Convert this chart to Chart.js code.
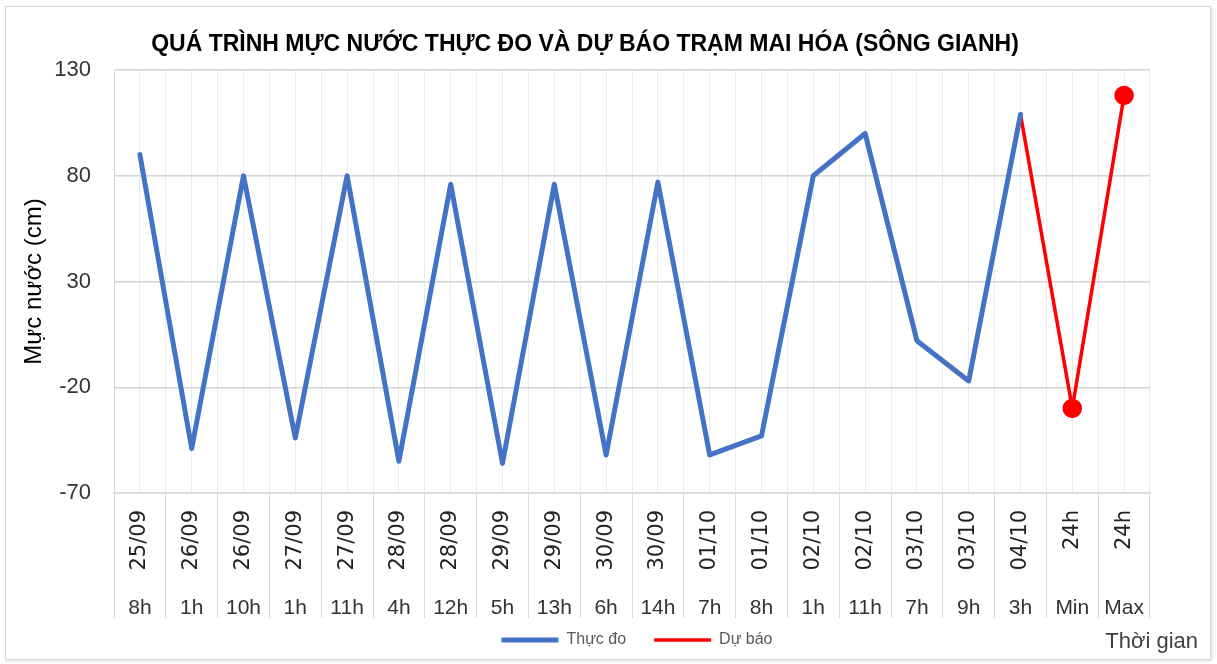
<!DOCTYPE html>
<html lang="vi">
<head>
<meta charset="utf-8">
<title>Mực nước Mai Hóa</title>
<script src="https://cdn.jsdelivr.net/npm/chart.js@4.4.1/dist/chart.umd.min.js"></script>
<style>
  html, body { margin: 0; padding: 0; background: #fff; }
  #frame {
    position: absolute; left: 5px; top: 6px; width: 1204px; height: 652px;
    border: 1px solid #d9d9d9; box-shadow: 1px 1px 3px rgba(0, 0, 0, 0.15);
  }
  #wrap { position: absolute; left: 0; top: 0; width: 1217px; height: 664px; }
</style>
</head>
<body>
<div id="frame"></div>
<div id="wrap"><canvas id="chart" width="1217" height="664"></canvas></div>
<script>
// Chart text
const chartTitle = 'QUÁ TRÌNH MỰC NƯỚC THỰC ĐO VÀ DỰ BÁO TRẠM MAI HÓA (SÔNG GIANH)';
const yTitle = 'Mực nước (cm)';
const xTitle = 'Thời gian';

// Two-level category labels: date (rotated) and hour
const dateLabels = ['25/09', '26/09', '26/09', '27/09', '27/09', '28/09', '28/09', '29/09', '29/09', '30/09',
    '30/09', '01/10', '01/10', '02/10', '02/10', '03/10', '03/10', '04/10', '24h', '24h'];
const hourLabels = ['8h', '1h', '10h', '1h', '11h', '4h', '12h', '5h', '13h', '6h',
    '14h', '7h', '8h', '1h', '11h', '7h', '9h', '3h', 'Min', 'Max'];

// Water levels (cm)
const observed = [90, -49, 80, -44, 80, -55, 76, -56, 76, -52,
    77, -52, -43, 80, 100, 2, -17, 109, null, null];
const forecast = [null, null, null, null, null, null, null, null, null, null,
    null, null, null, null, null, null, null, 109, -30, 118];

const yMin = -70;
const yMax = 130;
const yStep = 50;

const baseFont = 'Liberation Sans';

// Draw the chart title and the x axis title
const extraText = {
    id: 'extraText',
    afterLayout(chart) {
        // move the legend row to where the original sits (right of centre, higher up)
        const lg = chart.legend;
        lg.left += 54;
        lg.right += 54;
        lg.top -= 21;
        lg.bottom -= 21;
    },
    afterDraw(chart) {
        const ctx = chart.ctx;
        ctx.save();
        ctx.fillStyle = '#000';
        ctx.font = 'bold 23px "' + baseFont + '"';
        ctx.textAlign = 'center';
        ctx.textBaseline = 'middle';
        ctx.fillText(chartTitle, 585, 45);
        ctx.fillStyle = '#404040';
        ctx.font = '22px "' + baseFont + '"';
        ctx.textAlign = 'right';
        ctx.fillText(xTitle, 1198, 642);
        ctx.restore();
    }
};

const ctx = document.getElementById('chart').getContext('2d');
const chart = new Chart(ctx, {
    type: 'line',
    data: {
        datasets: [{
            label: 'Thực đo',
            data: observed,
            borderColor: '#4472C4',
            backgroundColor: '#4472C4',
            borderWidth: 5,
            borderJoinStyle: 'round',
            borderCapStyle: 'round',
            pointRadius: 0,
            tension: 0
        }, {
            label: 'Dự báo',
            data: forecast,
            borderColor: '#FF0000',
            backgroundColor: '#FF0000',
            borderWidth: 3.5,
            borderJoinStyle: 'round',
            borderCapStyle: 'round',
            pointRadius: forecast.map((v, i) => (i >= forecast.length - 2 ? 8 : 0)),
            pointBackgroundColor: '#FF0000',
            pointBorderColor: '#FF0000',
            tension: 0
        }]
    },
    options: {
        responsive: false,
        animation: false,
        devicePixelRatio: 1,
        layout: {
            padding: { left: 16, right: 67, top: 70, bottom: -15 }
        },
        plugins: {
            title: { display: false },
            tooltip: { enabled: false },
            legend: {
                position: 'bottom',
                labels: {
                    usePointStyle: true,
                    pointStyle: 'line',
                    pointStyleWidth: 57,
                    boxHeight: 16,
                    padding: 28,
                    color: '#595959',
                    font: { family: baseFont, size: 16 }
                }
            }
        },
        scales: {
            x: {
                type: 'category',
                labels: dateLabels,
                position: 'bottom',
                offset: true,
                grid: { offset: true, color: '#ececec', tickColor: '#d9d9d9', tickLength: 125 },
                border: { display: true, color: '#d9d9d9', width: 1.5 },
                ticks: {
                    autoSkip: false,
                    minRotation: 90,
                    maxRotation: 90,
                    padding: -108,
                    color: '#222',
                    font: { family: 'DejaVu Sans', size: 21 }
                },
                afterFit: (s) => { s.height = 97; }
            },
            x2: {
                type: 'category',
                labels: hourLabels,
                position: 'bottom',
                offset: true,
                grid: { offset: false, color: '#ececec', drawTicks: false },
                border: { display: false },
                ticks: {
                    autoSkip: false,
                    maxRotation: 0,
                    padding: 6,
                    color: '#333',
                    font: { family: baseFont, size: 21 }
                },
                afterFit: (s) => { s.height = 35; }
            },
            y: {
                min: yMin,
                max: yMax,
                ticks: {
                    stepSize: yStep,
                    padding: 23,
                    color: '#333',
                    font: { family: baseFont, size: 22 }
                },
                grid: { color: '#d4d4d4', lineWidth: 1.5, drawTicks: false },
                border: { display: true, color: '#d9d9d9' },
                title: {
                    display: true,
                    text: yTitle,
                    color: '#000',
                    font: { family: baseFont, size: 24 }
                },
                afterFit: (s) => { s.width = 98; }
            }
        }
    },
    plugins: [extraText]
});
</script>
</body>
</html>
